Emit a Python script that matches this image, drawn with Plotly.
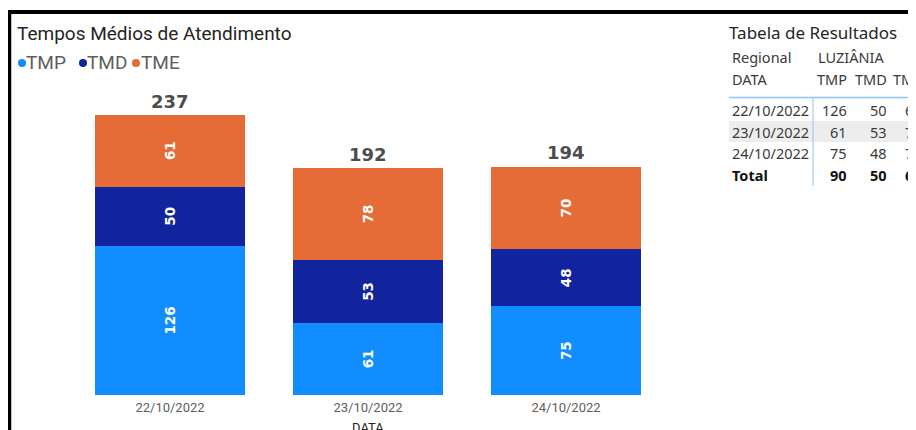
import plotly.graph_objects as go

# data
dates = ["22/10/2022", "23/10/2022", "24/10/2022"]
tmp = [126, 61, 75]
tmd = [50, 53, 48]
tme = [61, 78, 70]
totals = [237, 192, 194]
series_names = ["TMP", "TMD", "TME"]
series_colors = ["#118DFF", "#12239E", "#E66C37"]
regional = "LUZIÂNIA"
table_totals = [90, 50, 69]

# page body adds an 8px margin, so the figure is drawn 8px in
OFF = 8
FW, FH = 916 - OFF, 430 - OFF
# plot area in screen pixels
L, R, T, B = 71, 665, 85, 395


def px(x):
    return (x - L) / (R - L)


def py(y):
    return (B - y) / (B - T)


fig = go.Figure()

for name, vals, color in zip(series_names, [tmp, tmd, tme], series_colors):
    fig.add_trace(go.Bar(
        x=dates, y=vals, name=name,
        marker=dict(color=color, line=dict(width=0)),
        width=0.758,
        text=vals, textposition="inside", insidetextanchor="middle",
        textangle=-90,
        textfont=dict(family="DejaVu Sans", size=13.5, color="white", weight="bold"),
        showlegend=False, hoverinfo="skip",
    ))

annotations = []
shapes = []

# totals above the stacks
for d, tot in zip(dates, totals):
    annotations.append(dict(
        x=d, y=tot, xref="x", yref="y", text=str(tot), showarrow=False,
        yanchor="middle", yshift=13,
        font=dict(family="DejaVu Sans", size=18, color="#4D4D4D", weight="bold"),
    ))


def label(x, y, text, size=14.5, color="#252423", anchor="left", family="Noto Sans", bold=False):
    annotations.append(dict(
        xref="paper", yref="paper", x=px(x), y=py(y), text=text,
        xanchor=anchor, yanchor="middle", showarrow=False,
        font=dict(family=family, size=size, color=color, weight="bold" if bold else "normal"),
    ))


# chart title and legend
label(15, 33, "Tempos Médios de Atendimento", size=19, family="Roboto")
legend_pos = [(22, 26), (83, 87), (136, 141)]
for (cx, tx), name, color in zip(legend_pos, series_names, series_colors):
    shapes.append(dict(type="circle", xref="paper", yref="paper",
                       x0=px(cx - 4), x1=px(cx + 4), y0=py(63 + 4), y1=py(63 - 4),
                       fillcolor=color, line=dict(width=0)))
    label(tx - 2, 63, name, size=19, color="#605E5C", family="Roboto")

# x axis title (sits at the bottom edge, partly cut like the original)
label(368, 427, "DATA", size=13, family="Roboto", anchor="center")

# table
shapes.append(dict(type="rect", xref="paper", yref="paper", layer="below",
                   x0=px(729), x1=px(940), y0=py(142), y1=py(121),
                   fillcolor="#EDEDED", line=dict(width=0)))
shapes.append(dict(type="line", xref="paper", yref="paper",
                   x0=px(729), x1=px(940), y0=py(97.5), y1=py(97.5),
                   line=dict(color="#8FC4F5", width=1.5)))
shapes.append(dict(type="line", xref="paper", yref="paper",
                   x0=px(813), x1=px(813), y0=py(97.5), y1=py(186),
                   line=dict(color="#8FC4F5", width=1)))

label(727, 32, "Tabela de Resultados", size=17)
label(730, 57, "Regional", color="#3B3A39")
label(816, 57, regional, color="#3B3A39")
label(730, 79, "DATA", color="#3B3A39")
col_right = [849, 889, 924]
for cr, name in zip(col_right, series_names):
    label(cr, 79, name, color="#3B3A39", anchor="right")

row_y = [110, 132, 153]
for i, (d, y) in enumerate(zip(dates, row_y)):
    label(730, y, d, color="#3B3A39")
    for cr, vals in zip(col_right, [tmp, tmd, tme]):
        label(cr, y, str(vals[i]), color="#3B3A39", anchor="right")
label(730, 175, "Total", color="#111111", bold=True)
for cr, v in zip(col_right, table_totals):
    label(cr, 175, str(v), color="#111111", anchor="right", bold=True)

# black frame
shapes.append(dict(type="line", xref="paper", yref="paper",
                   x0=px(7.5), x1=px(940), y0=py(12), y1=py(12),
                   line=dict(color="black", width=4)))
shapes.append(dict(type="line", xref="paper", yref="paper",
                   x0=px(9.5), x1=px(9.5), y0=py(10), y1=py(460),
                   line=dict(color="black", width=3.5)))

fig.update_layout(
    width=FW, height=FH,
    barmode="stack",
    paper_bgcolor="white", plot_bgcolor="white",
    margin=dict(l=L - OFF, r=FW - (R - OFF), t=T - OFF, b=FH - (B - OFF), autoexpand=False),
    annotations=annotations,
    shapes=shapes,
    showlegend=False,
    xaxis=dict(
        showgrid=False, zeroline=False, showline=False, ticks="",
        ticklabelstandoff=3,
        tickfont=dict(family="Roboto", size=13, color="#605E5C"),
        automargin=False,
    ),
    yaxis=dict(range=[0, 262], visible=False, showgrid=False, zeroline=False),
)

fig.write_html("out.html")
